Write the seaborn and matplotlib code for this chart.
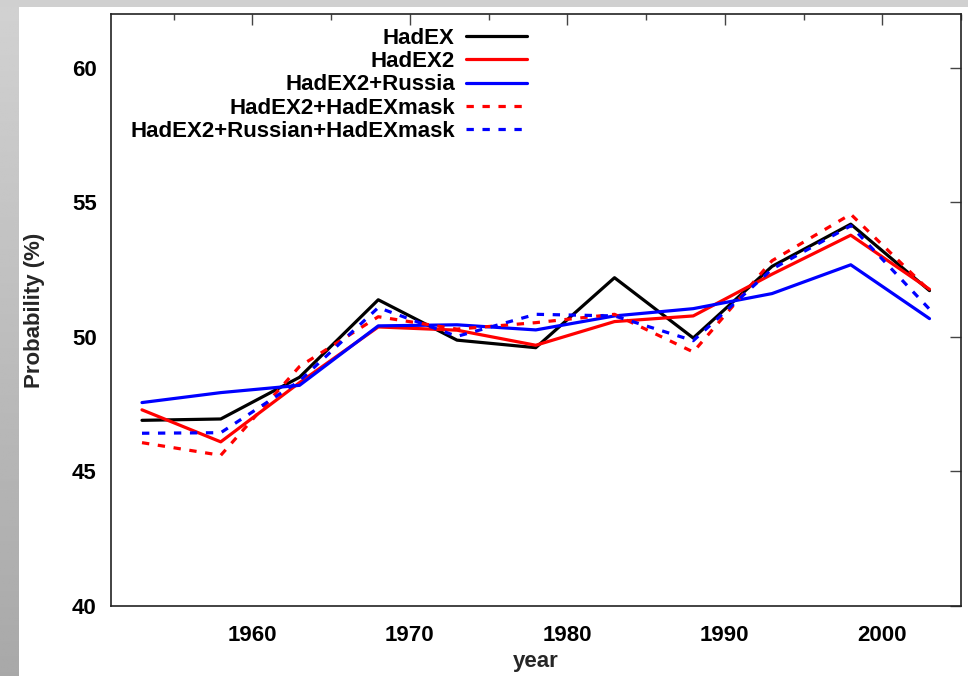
import numpy as np
import pandas as pd
import matplotlib
matplotlib.use("Agg")
import matplotlib.pyplot as plt
import seaborn as sns
from matplotlib.ticker import MultipleLocator

# ---- data ----
years = [1953, 1958, 1963, 1968, 1973, 1978, 1983, 1988, 1993, 1998, 2003]
hadex = [46.90, 46.95, 48.50, 51.38, 49.88, 49.60, 52.20, 49.96, 52.62, 54.19, 51.72]
hadex2 = [47.29, 46.10, 48.30, 50.37, 50.25, 49.69, 50.57, 50.78, 52.33, 53.78, 51.77]
hadex2_russia = [47.56, 47.93, 48.20, 50.41, 50.45, 50.26, 50.78, 51.05, 51.61, 52.68, 50.68]
hadex2_mask = [46.07, 45.60, 48.90, 50.75, 50.29, 50.53, 50.84, 49.44, 52.83, 54.56, 51.72]
hadex2_russian_mask = [46.42, 46.44, 48.36, 51.09, 50.02, 50.84, 50.78, 49.86, 52.52, 54.13, 51.03]

series_names = ["HadEX", "HadEX2", "HadEX2+Russia", "HadEX2+HadEXmask",
                "HadEX2+Russian+HadEXmask"]
series_values = [hadex, hadex2, hadex2_russia, hadex2_mask, hadex2_russian_mask]
series_colors = ["#000000", "#ff0000", "#0000ff", "#ff0000", "#0000ff"]
series_dashed = [False, False, False, True, True]

x_ticks = [1960, 1970, 1980, 1990, 2000]
y_ticks = [40, 45, 50, 55, 60]

df = pd.DataFrame({
    "year": np.tile(years, len(series_names)),
    "value": np.concatenate(series_values),
    "series": np.repeat(series_names, len(years)),
})

sns.set_theme(style="white")
plt.rcParams["font.family"] = ["Liberation Sans", "DejaVu Sans"]
plt.rcParams["font.weight"] = "bold"

W, H = 968, 676
fig = plt.figure(figsize=(W / 100, H / 100), dpi=100)
fig.patch.set_facecolor("white")

# grey border strips (left gradient + top band)
bg = fig.add_axes([0, 0, 1, 1], zorder=-10)
bg.set_xlim(0, W)
bg.set_ylim(H, 0)
bg.axis("off")
grad = np.linspace(0.82, 0.66, 256).reshape(-1, 1)
bg.imshow(grad, cmap="gray", vmin=0, vmax=1, extent=[0, 19, H, 7], aspect="auto")
bg.add_patch(plt.Rectangle((0, 0), W, 7, color="#d0d0d0", lw=0))

left, right, top, bottom = 110.5, 961, 14, 606
ax = fig.add_axes([left / W, 1 - bottom / H, (right - left) / W, (bottom - top) / H])
ax.set_facecolor("white")

lw = 2.3
for name, col, dashed in zip(series_names, series_colors, series_dashed):
    sub = df[df["series"] == name]
    sns.lineplot(data=sub, x="year", y="value", ax=ax, color=col, lw=lw,
                 label=name, estimator=None, sort=False)
    line = ax.lines[-1]
    if dashed:
        line.set_dashes((2.3, 2.7))
        line.set_dash_capstyle("butt")

ax.set_xlim(1951, 2005)
ax.set_ylim(40, 62)
ax.set_xticks(x_ticks)
ax.set_yticks(y_ticks)
ax.xaxis.set_minor_locator(MultipleLocator(5))
ax.tick_params(axis="both", which="both", direction="in", top=True, right=True,
               colors="#444444", labelcolor="black", width=1)
ax.tick_params(axis="both", which="major", length=8, labelsize=16)
ax.tick_params(axis="x", which="major", pad=14)
ax.tick_params(axis="y", which="major", pad=10)
ax.tick_params(axis="x", which="minor", length=4)
ax.tick_params(axis="y", which="minor", length=0)
for lab in ax.get_xticklabels() + ax.get_yticklabels():
    lab.set_fontweight("bold")
for s in ax.spines.values():
    s.set_color("#222222")
    s.set_linewidth(1.2)

ax.set_xlabel("year", fontsize=16, fontweight="bold", labelpad=3)
ax.set_ylabel("Probability (%)", fontsize=16, fontweight="bold", labelpad=19)

handles, labels = ax.get_legend_handles_labels()
leg = ax.legend(handles, labels, loc="upper right",
                bbox_to_anchor=(527 / W, 1 - 28 / H), bbox_transform=fig.transFigure,
                frameon=False, markerfirst=False, fontsize=16,
                handlelength=2.75, handletextpad=0.5, labelspacing=0.1,
                borderpad=0, borderaxespad=0)
for t in leg.get_texts():
    t.set_fontweight("bold")
    t.set_color("black")

fig.savefig("out.png", dpi=100)
